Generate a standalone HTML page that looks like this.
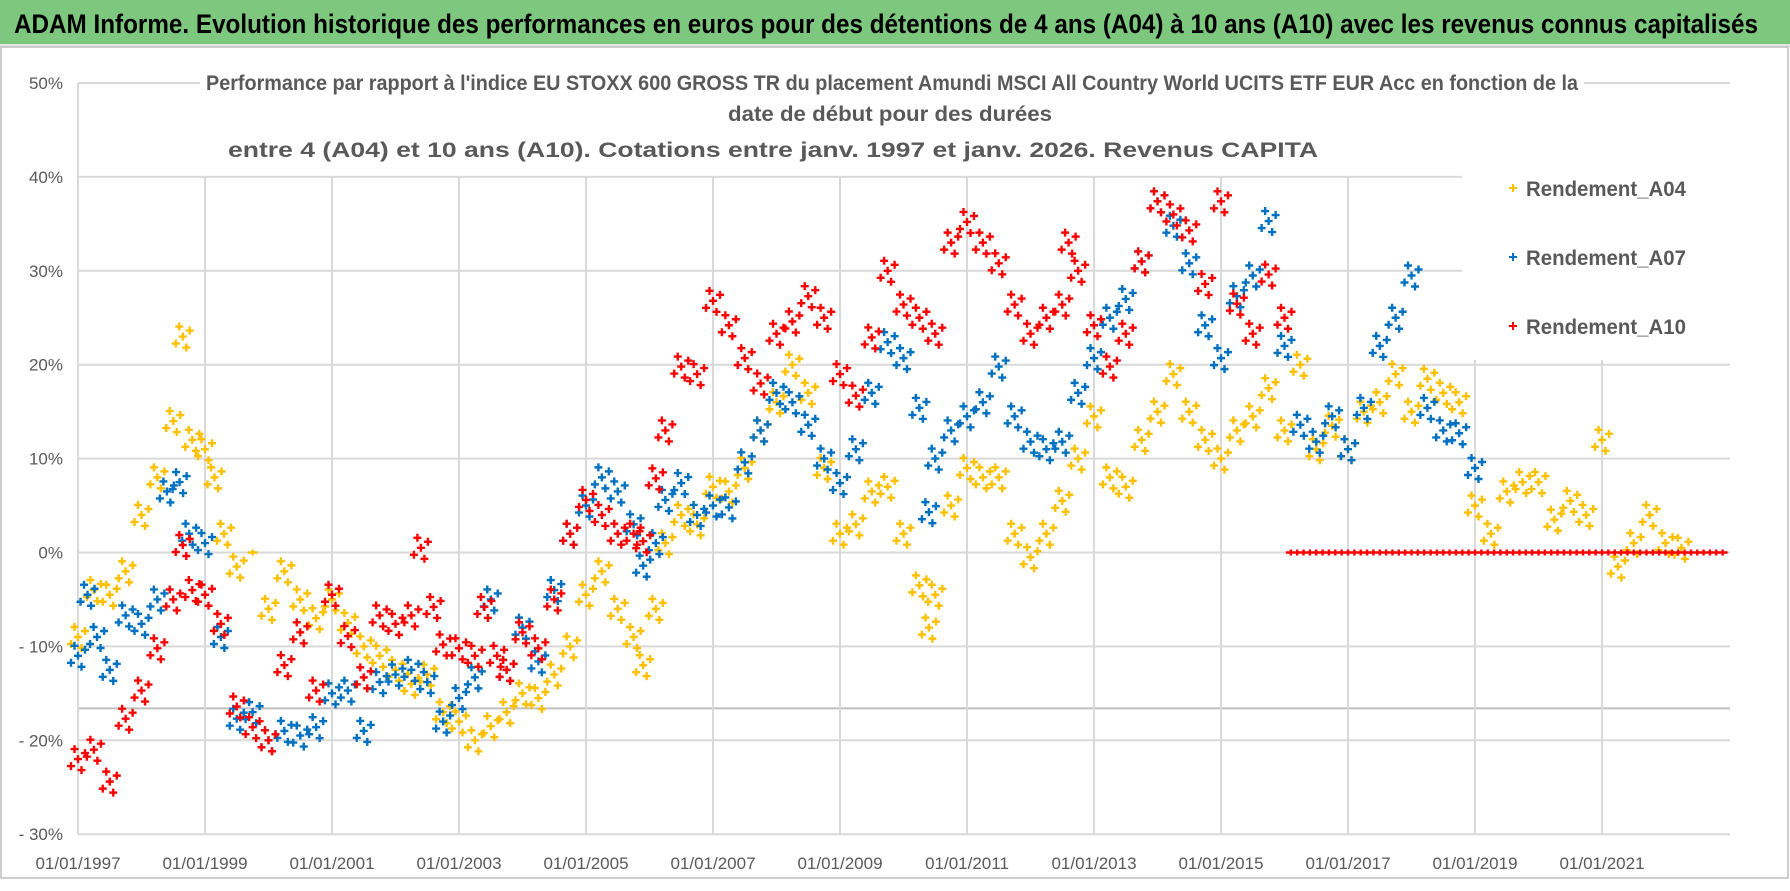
<!DOCTYPE html>
<html><head><meta charset="utf-8">
<style>
html,body{margin:0;padding:0;background:#fff;}
body{width:1790px;height:886px;overflow:hidden;font-family:"Liberation Sans",sans-serif;}
</style></head>
<body>
<svg id="chart" width="1790" height="886" viewBox="0 0 1790 886" xmlns="http://www.w3.org/2000/svg">
  <rect x="0" y="0" width="1790" height="886" fill="#ffffff"/>
  <rect x="0" y="0" width="1790" height="44" fill="#7dc87e"/>
  <rect x="0" y="44" width="1790" height="3" fill="#e4e4e4"/>
  <rect x="1" y="47" width="1787" height="831" fill="none" stroke="#bdbdbd" stroke-width="1.5"/>
  <text x="14" y="33" font-size="27" font-weight="bold" fill="#000" textLength="1744" lengthAdjust="spacingAndGlyphs">ADAM Informe. Evolution historique des performances en euros pour des détentions de 4 ans (A04) à 10 ans (A10) avec les revenus connus capitalisés</text>
  <g id="grid"></g>
  <g id="yaxis"></g>
  <g id="xaxis"></g>
  <g id="marks"></g>
  <rect x="200" y="60" width="1384" height="112" fill="#fff"/>
  <g fill="#595959" font-size="21" font-weight="bold">
    <text x="206" y="90" textLength="1372" lengthAdjust="spacingAndGlyphs">Performance par rapport à l'indice EU STOXX 600 GROSS TR  du placement Amundi MSCI All Country World UCITS ETF EUR Acc  en fonction de la</text>
    <text x="890" y="121" text-anchor="middle" textLength="324" lengthAdjust="spacingAndGlyphs">date de début pour des durées</text>
    <text x="228" y="157" textLength="1090" lengthAdjust="spacingAndGlyphs">entre 4 (A04) et 10 ans (A10).  Cotations entre janv. 1997 et janv. 2026. Revenus CAPITA</text>
  </g>
  <rect x="1462" y="160" width="268" height="200" fill="#fff"/>
  <g font-size="21" font-weight="bold" fill="#595959">
    <g>
      <path d="M1509 188h8M1513 184v8" stroke="#ffc000" stroke-width="2"/>
      <text x="1526" y="196" textLength="160" lengthAdjust="spacingAndGlyphs">Rendement_A04</text>
    </g>
    <g>
      <path d="M1509 257h8M1513 253v8" stroke="#0070c0" stroke-width="2"/>
      <text x="1526" y="265" textLength="160" lengthAdjust="spacingAndGlyphs">Rendement_A07</text>
    </g>
    <g>
      <path d="M1509 326h8M1513 322v8" stroke="#ff0000" stroke-width="2"/>
      <text x="1526" y="334" textLength="160" lengthAdjust="spacingAndGlyphs">Rendement_A10</text>
    </g>
  </g>
</svg>
<script>
const yTicks = [50,40,30,20,10,0,-10,-20,-30];
const yTickLabels = ["50%","40%","30%","20%","10%","0%","- 10%","- 20%","- 30%"];
const xTickYears = [1997,1999,2001,2003,2005,2007,2009,2011,2013,2015,2017,2019,2021];
const xTickLabels = ["01/01/1997","01/01/1999","01/01/2001","01/01/2003","01/01/2005","01/01/2007","01/01/2009","01/01/2011","01/01/2013","01/01/2015","01/01/2017","01/01/2019","01/01/2021"];

const a04Years = [1997,1997.25,1997.5,1997.75,1998,1998.25,1998.5,1998.65,1998.8,1999,1999.15,1999.3,1999.5,1999.75,2000,2000.25,2000.5,2000.75,2001,2001.25,2001.5,2001.75,2002,2002.25,2002.5,2002.75,2003,2003.25,2003.5,2003.75,2004,2004.25,2004.5,2004.75,2005,2005.25,2005.5,2005.75,2005.9,2006.1,2006.25,2006.5,2006.75,2007,2007.25,2007.5,2007.75,2008,2008.25,2008.5,2008.75,2009,2009.25,2009.5,2009.75,2010,2010.25,2010.4,2010.5,2010.75,2011,2011.25,2011.5,2011.75,2012,2012.25,2012.5,2012.75,2013,2013.25,2013.5,2013.75,2014,2014.25,2014.5,2014.75,2015,2015.25,2015.5,2015.75,2016,2016.25,2016.5,2016.75,2017,2017.25,2017.5,2017.75,2018,2018.25,2018.5,2018.75,2019,2019.25,2019.5,2019.75,2020,2020.25,2020.5,2020.75,2021,2021.25,2021.5,2021.75,2022,2022.25];
const a04Values = [-9,-4,-4.5,-2,4,8,14,23,12,11,8,2,-1.5,0,-6,-2,-5,-7,-5,-7.5,-10,-11,-12.5,-14,-13,-17,-18,-20,-18.5,-17,-15,-15.5,-13,-10,-4.5,-2,-6,-9,-12,-6,1,4,3,7,6.5,9,13,16,20,17,9,2,3,6.5,7,2,-3.5,-8,-4.5,5,9,8,8,2,-0.5,2,5.5,10,14.5,8,7,12,15,19,15,12,10,13,14.5,17.5,13,20,11,13.5,11,15,16,19,15,18.5,17,16,5,2,6.5,7.5,7.5,3.5,5.5,4,12,-1.5,1,4,1,0.5];

const a07Years = [1997,1997.15,1997.3,1997.5,1997.75,1998,1998.25,1998.4,1998.6,1998.75,1999,1999.25,1999.5,1999.75,2000,2000.25,2000.5,2000.75,2001,2001.25,2001.5,2001.75,2002,2002.25,2002.5,2002.75,2003,2003.25,2003.5,2003.75,2004,2004.25,2004.5,2004.75,2005,2005.25,2005.5,2005.75,2005.9,2006.1,2006.25,2006.5,2006.75,2007,2007.25,2007.5,2007.75,2008,2008.25,2008.5,2008.75,2009,2009.25,2009.5,2009.75,2010,2010.25,2010.4,2010.5,2010.75,2011,2011.25,2011.5,2011.75,2012,2012.25,2012.5,2012.75,2013,2013.25,2013.5,2013.75,2014,2014.25,2014.5,2014.75,2015,2015.25,2015.5,2015.75,2016,2016.25,2016.5,2016.75,2017,2017.25,2017.5,2017.75,2018,2018.25,2018.5,2018.75,2019];
const a07Values = [-11,-4.5,-9,-12.5,-6.7,-7.6,-5,6.5,7.5,2,1,-9,-17.7,-17,-20,-19,-19.5,-18.6,-15,-14.7,-19,-13.8,-13,-12.5,-13.8,-18,-15.5,-13.3,-5,-12.5,-8,-11.6,-4,2,5,8,6.5,3,-1.4,1,5.6,7.4,4,5,4.8,9.6,13,17,16,13.6,10,7.4,11,17,22.4,20.7,15.4,4.3,10,13,14.5,16,19.8,14.5,11.8,11,11.8,17,20.7,25,27,31,37.4,34.8,30.8,24.2,20.7,27.3,29.5,35.3,22,13.6,11.8,14.5,11,15.4,22,25,29.5,15.4,13,12.7,9];

const a10Years = [1997,1997.25,1997.5,1997.75,1998,1998.25,1998.5,1998.65,1998.8,1999,1999.25,1999.5,1999.75,2000,2000.25,2000.5,2000.75,2001,2001.25,2001.5,2001.75,2002,2002.25,2002.4,2002.6,2002.75,2003,2003.25,2003.4,2003.6,2003.75,2004,2004.25,2004.5,2004.75,2005,2005.25,2005.5,2005.75,2005.9,2006.1,2006.25,2006.5,2006.75,2007,2007.25,2007.5,2007.75,2008,2008.25,2008.5,2008.75,2009,2009.25,2009.5,2009.75,2010,2010.25,2010.5,2010.75,2011,2011.25,2011.5,2011.75,2012,2012.25,2012.5,2012.6,2012.75,2013,2013.25,2013.5,2013.75,2014,2014.25,2014.5,2014.75,2015,2015.25,2015.5,2015.75,2016,
2016.1,2016.2,2016.3,2016.4,2016.5,2016.6,2016.7,2016.8,2016.9,2017,2017.1,2017.2,2017.3,2017.4,2017.5,2017.6,2017.7,2017.8,2017.9,2018,2018.1,2018.2,2018.3,2018.4,2018.5,2018.6,2018.7,2018.8,2018.9,2019,2019.1,2019.2,2019.3,2019.4,2019.5,2019.6,2019.7,2019.8,2019.9,2020,2020.1,2020.2,2020.3,2020.4,2020.5,2020.6,2020.7,2020.8,2020.9,2021,2021.1,2021.2,2021.3,2021.4,2021.5,2021.6,2021.7,2021.8,2021.9,2022,2022.1,2022.2,2022.3,2022.4,2022.5,2022.6,2022.7,2022.8,2022.9];
const a10Values = [-22,-21,-24.4,-17.7,-14.7,-10.2,-5,0.8,-4,-4.5,-7.6,-16.4,-18.6,-20,-12,-8.5,-14.7,-4.5,-8.9,-13.3,-6.7,-7.6,-6.7,0.5,-5.8,-9.8,-10.2,-11,-5.8,-11,-12.5,-8.5,-10.2,-5,2,5.6,4,2,2,1.2,7.9,13,19.8,19,26.8,24.2,20.7,18,23.3,24.6,27.3,25,19,16.7,22.9,30,26.4,25,23.3,33,35.2,33,30.8,26.4,23.3,25,26.4,33,30,24.2,19.8,23.3,31,37.4,36,34.3,28.6,37.4,26.5,23.3,29.6,25,
0,0,0,0,0,0,0,0,0,0,0,0,0,0,0,0,0,0,0,0,0,0,0,0,0,0,0,0,0,0,0,0,0,0,0,0,0,0,0,0,0,0,0,0,0,0,0,0,0,0,0,0,0,0,0,0,0,0,0,0,0,0,0,0,0,0,0,0,0];

const NS = "http://www.w3.org/2000/svg";
const X0 = 78, PX_PER_YEAR = 63.5, Y50 = 83, PX_PER_PCT = 9.39;
function xScale(year){ return X0 + (year - 1997) * PX_PER_YEAR; }
function yScale(v){ return Y50 + (50 - v) * PX_PER_PCT; }
const PLOT_RIGHT = 1730;
// marker cluster shape (pixel offsets of the sub-crosses of each marker glyph)
const CLUSTER_DX = [-7,-3.5,0,3.5,7];
const CLUSTER_DY = [7,-10,0,11,-6];

function mk(tag, attrs, parent){
  const el = document.createElementNS(NS, tag);
  for (const k in attrs) el.setAttribute(k, attrs[k]);
  parent.appendChild(el);
  return el;
}

const grid = document.getElementById('grid');
yTicks.forEach(function(t){
  const ln = mk('line', {x1:X0, x2:PLOT_RIGHT, y1:yScale(t), y2:yScale(t), stroke:'#d9d9d9', 'stroke-width':2}, grid);
  
  
});
const extra = mk('line', {x1:X0, x2:PLOT_RIGHT, y1:yScale(-16.6), y2:yScale(-16.6), stroke:'#bfbfbf', 'stroke-width':2}, grid);


xTickYears.forEach(function(yr){
  const ln = mk('line', {x1:xScale(yr), x2:xScale(yr), y1:yScale(40), y2:yScale(-30), stroke:'#d9d9d9', 'stroke-width':2}, grid);
  
  
});
const yAxisLine = mk('line', {x1:X0, x2:X0, y1:yScale(50), y2:yScale(-30), stroke:'#d9d9d9', 'stroke-width':2}, grid);



const yaxis = document.getElementById('yaxis');
yTicks.forEach(function(t, i){
  const tx = mk('text', {x:63, y:yScale(t)+6, 'text-anchor':'end', 'font-size':17, fill:'#595959'}, yaxis);
  tx.textContent = yTickLabels[i];
  
  
});
const xaxis = document.getElementById('xaxis');
xTickYears.forEach(function(yr, i){
  const tx = mk('text', {x:xScale(yr), y:869, 'text-anchor':'middle', 'font-size':17, fill:'#595959'}, xaxis);
  tx.textContent = xTickLabels[i];
  
  
});

const marks = document.getElementById('marks');
function drawSeries(years, values, color, name){
  const g = mk('g', {stroke:color, 'stroke-width':2.4}, marks);
  
  
  let d = '';
  for (let i = 0; i < values.length; i++){
    const cx = xScale(years[i]), cy = yScale(values[i]);
    if (values[i] === 0) {
      d += 'M' + (cx-5) + ' ' + cy + 'h10M' + cx + ' ' + (cy-3) + 'v6';
      continue;
    }
    for (let k = 0; k < CLUSTER_DX.length; k++){
      const px = cx + CLUSTER_DX[k], py = cy + CLUSTER_DY[k];
      d += 'M' + (px-4) + ' ' + py + 'h8M' + px + ' ' + (py-4) + 'v8';
    }
  }
  const p = mk('path', {d:d, fill:'none'}, g);
  
  
}
drawSeries(a04Years, a04Values, '#ffc000', 'series-a04');
drawSeries(a07Years, a07Values, '#0070c0', 'series-a07');
drawSeries(a10Years, a10Values, '#ff0000', 'series-a10');
</script>
</body></html>
